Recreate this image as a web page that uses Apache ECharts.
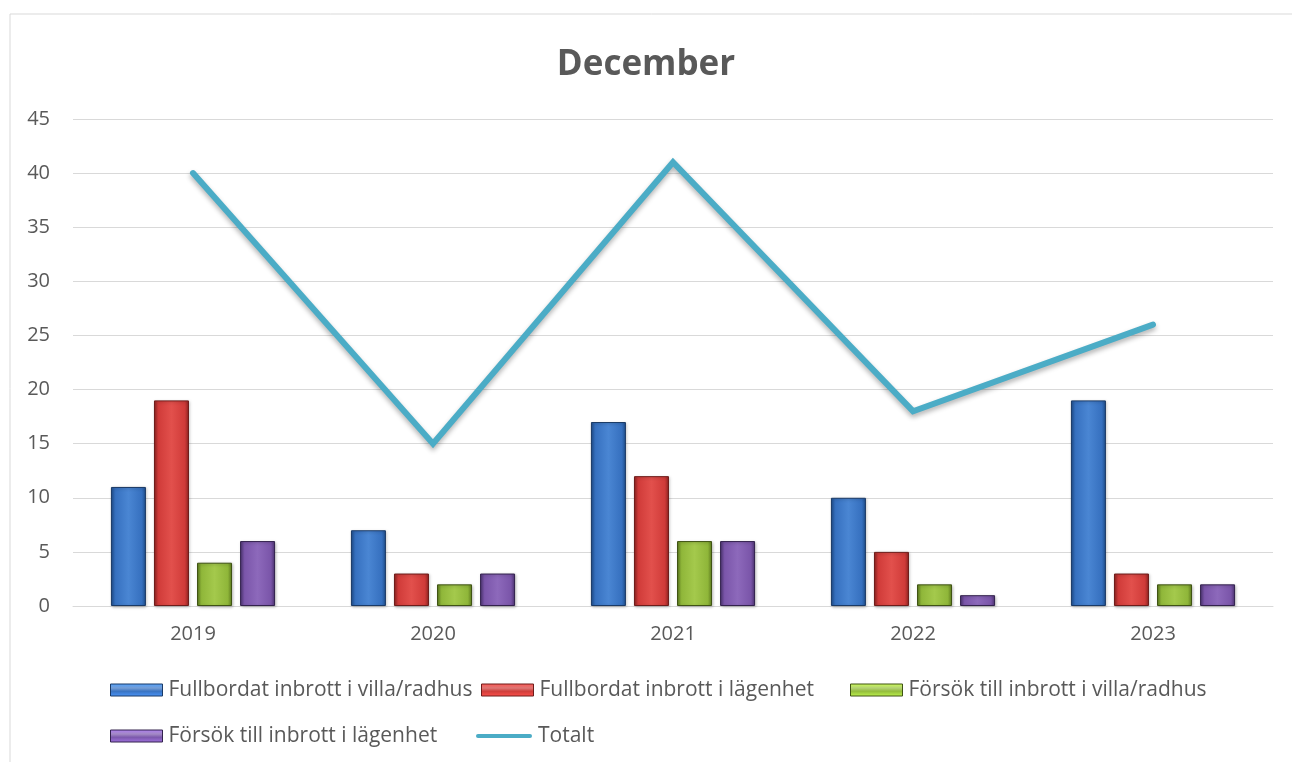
<!DOCTYPE html>
<html><head><meta charset="utf-8">
<script src="https://cdn.jsdelivr.net/npm/echarts@6/dist/echarts.min.js"></script>
<style>html,body{margin:0;padding:0;background:#fff}#c{width:1292px;height:762px}</style>
</head><body><div id="c"></div>
<script>
var categories = ['2019','2020','2021','2022','2023'];
var villaFull = [11, 7, 17, 10, 19];
var lghFull = [19, 3, 12, 5, 3];
var villaForsok = [4, 2, 6, 2, 2];
var lghForsok = [6, 3, 6, 1, 2];
var totalt = [40, 15, 41, 18, 26];
var seriesNames = ['Fullbordat inbrott i villa/radhus','Fullbordat inbrott i lägenhet','Försök till inbrott i villa/radhus','Försök till inbrott i lägenhet','Totalt'];

function bevel(dark, mid, light){
  return {type:'linear',x:0,y:0,x2:1,y2:0,colorStops:[
    {offset:0,color:dark},{offset:0.12,color:mid},{offset:0.5,color:light},{offset:0.88,color:mid},{offset:1,color:dark}]};
}
var styles = [
  {color:bevel('#1f4e8c','#3670bf','#4a86d3'), borderColor:'#1a3a66'},
  {color:bevel('#8e2523','#d03b39','#e2504c'), borderColor:'#6e1c1a'},
  {color:bevel('#5c7a1e','#8fb639','#a4c94c'), borderColor:'#3f5314'},
  {color:bevel('#4c3470','#7a55a9','#8d69bb'), borderColor:'#33224d'}
];
function legendStyle(i){
  var c = ['#3a74c2','#cf3e3b','#93bd3c','#7c58ad'][i];
  return {color:{type:'linear',x:0,y:0,x2:0,y2:1,colorStops:[{offset:0,color:echarts.color.lift(c,-0.4)},{offset:0.35,color:echarts.color.lift(c,0.3)},{offset:0.6,color:c},{offset:1,color:echarts.color.lift(c,-0.3)}]}, borderColor:styles[i].borderColor, borderWidth:1};
}
var font = 'Open Sans, sans-serif';
var chart = echarts.init(document.getElementById('c'));
var barData = [villaFull, lghFull, villaForsok, lghForsok];
var series = barData.map(function(d,i){
  return {name:seriesNames[i], type:'bar', data:d, barWidth:35, barGap:'23%',
    itemStyle:{color:styles[i].color, borderColor:styles[i].borderColor, borderWidth:1,
      shadowColor:'rgba(0,0,0,0.25)', shadowBlur:3, shadowOffsetX:1, shadowOffsetY:1}};
});
series.push({name:seriesNames[4], type:'line', data:totalt, showSymbol:false, symbol:'none',
  lineStyle:{color:'#4bacc6', width:6, cap:'round', join:'miter', shadowColor:'rgba(0,0,0,0.3)', shadowBlur:5, shadowOffsetY:3},
  itemStyle:{color:'#4bacc6'}, z:5});
var legendPos = [[110,690],[481,690],[850,690],[110,736],[476,736]];
var legends = seriesNames.map(function(n,i){
  var item = {name:n};
  if(i<4){ item.icon = 'rect'; item.itemStyle = legendStyle(i); }
  else { item.icon = 'path://M2,0 L54,0 A2,2 0 0 1 54,4 L2,4 A2,2 0 0 1 2,0 Z'; item.itemStyle = {color:'#4bacc6'}; }
  return {left:legendPos[i][0], top:legendPos[i][1]-15, itemWidth:i<4?52:56, itemHeight:12, padding:0, selectedMode:false,
    textStyle:{fontFamily:font, fontSize:21, color:'#595959', padding:[0,0,0,1], lineHeight:30},
    data:[item]};
});
chart.setOption({
  animation:false,
  graphic:[{type:'rect', shape:{x:10,y:14,width:1300,height:800}, style:{fill:'none', stroke:'#d9d9d9', lineWidth:1}, silent:true}],
  title:{text:'December', left:'center', top:43, textStyle:{fontFamily:font, fontSize:35, fontWeight:'bold', color:'#595959'}},
  grid:{left:73, right:19, top:119, bottom:156},
  xAxis:{type:'category', data:categories, axisTick:{show:false},
    axisLine:{lineStyle:{color:'#d9d9d9', width:1}},
    axisLabel:{fontFamily:font, fontSize:20, color:'#595959', margin:18}},
  yAxis:{type:'value', min:0, max:45, interval:5,
    axisLine:{show:false}, axisTick:{show:false},
    splitLine:{lineStyle:{color:'#d9d9d9', width:1}},
    axisLabel:{fontFamily:font, fontSize:20, color:'#595959', margin:23}},
  legend:legends,
  series:series
});
</script></body></html>
